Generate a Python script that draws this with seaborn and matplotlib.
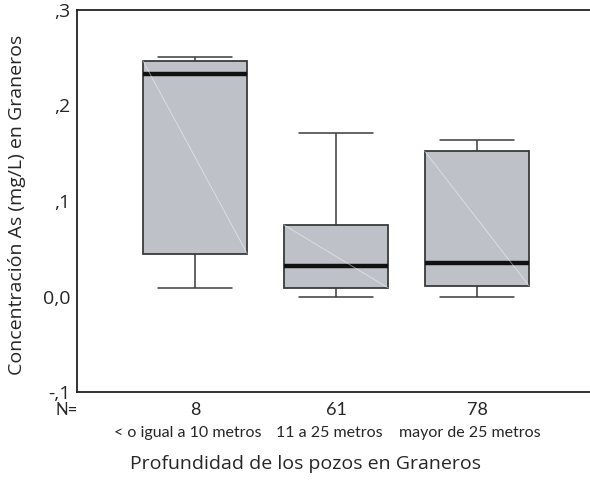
import numpy as np
import pandas as pd
import matplotlib
matplotlib.use("Agg")
import matplotlib.pyplot as plt
import matplotlib.transforms as mtransforms
import seaborn as sns

# ---- data ----
categories = ["< o igual a 10 metros", "11 a 25 metros", "mayor de 25 metros"]
counts = [8, 61, 78]
wmin = [0.009, 0.000, 0.000]
q1 = [0.045, 0.009, 0.011]
median = [0.233, 0.032, 0.035]
q3 = [0.247, 0.075, 0.152]
wmax = [0.251, 0.171, 0.164]
yticks = [-0.1, 0.0, 0.1, 0.2, 0.3]
ytick_labels = ["-,1", "0,0", ",1", ",2", ",3"]

# five-number rows: with whis=(0,100) the box/whiskers reproduce these exactly
rows = []
for c, a, b, m, d, e in zip(categories, wmin, q1, median, q3, wmax):
    for v in (a, b, m, d, e):
        rows.append({"grupo": c, "valor": v})
df = pd.DataFrame(rows)

sns.set_style("white")
plt.rcParams["font.family"] = ["Open Sans", "DejaVu Sans"]

W, H = 590, 482
fig = plt.figure(figsize=(W / 100, H / 100), dpi=100)
ax = fig.add_axes([77 / W, 1 - 392 / H, (W - 77) / W, (392 - 10) / H])

box_w = 0.74
sns.boxplot(
    data=df, x="grupo", y="valor", order=categories, ax=ax,
    whis=(0, 100), width=box_w, color="#BEC2C8", linecolor="#3a3a3a",
    linewidth=1.3, saturation=1, fliersize=0,
    medianprops=dict(color="#111111", linewidth=3.2),
    whiskerprops=dict(color="#3a3a3a", linewidth=1.1),
    capprops=dict(color="#3a3a3a", linewidth=1.1),
    capwidths=0.52,
)

# faint diagonal artifact inside each box (SPSS style)
for i in range(len(categories)):
    ax.plot([i - box_w / 2, i + box_w / 2], [q3[i], q1[i]],
            color="white", lw=0.6, alpha=0.5, zorder=3)

ax.set_ylim(-0.1, 0.3)
ax.set_xlim((77 - 195) / 141, (590 - 195) / 141)
ax.set_yticks(yticks)
ax.set_yticklabels(ytick_labels, fontsize=14)
ax.set_xticks(range(len(categories)))
ax.set_xticklabels([])
ax.tick_params(axis="both", direction="out", length=2.5, width=2.5, color="#222222")
ax.tick_params(axis="y", pad=2)

for s in ["left", "bottom", "top"]:
    ax.spines[s].set_visible(True)
    ax.spines[s].set_color("#222222")
    ax.spines[s].set_linewidth(1.3)
ax.spines["right"].set_visible(False)

ax.set_xlabel("")
ax.set_ylabel("")
fig.text(17 / W, 1 - 205 / H, "Concentración As (mg/L) en Graneros", fontsize=14,
         rotation=90, ha="center", va="center")

# N= label, counts and category names
trans = mtransforms.blended_transform_factory(ax.transData, fig.transFigure)
lab_trans = trans + mtransforms.ScaledTranslation(-7 / 100, 0, fig.dpi_scale_trans)
fig.text(67 / W, 1 - 410 / H, "N=", fontsize=12, ha="center", va="center",
         family=["Lato", "DejaVu Sans"])
for i, (c, n) in enumerate(zip(categories, counts)):
    ax.text(i, 1 - 410 / H, str(n), transform=trans, ha="center", va="center",
            fontsize=13, family=["Lato", "DejaVu Sans"])
    ax.text(i, 1 - 433 / H, c, transform=lab_trans, ha="center", va="center",
            fontsize=11.5, family=["Lato", "DejaVu Sans"])

fig.text(305 / W, 1 - 464 / H, "Profundidad de los pozos en Graneros",
         fontsize=14, ha="center", va="center")

fig.savefig("out.png", dpi=100)
